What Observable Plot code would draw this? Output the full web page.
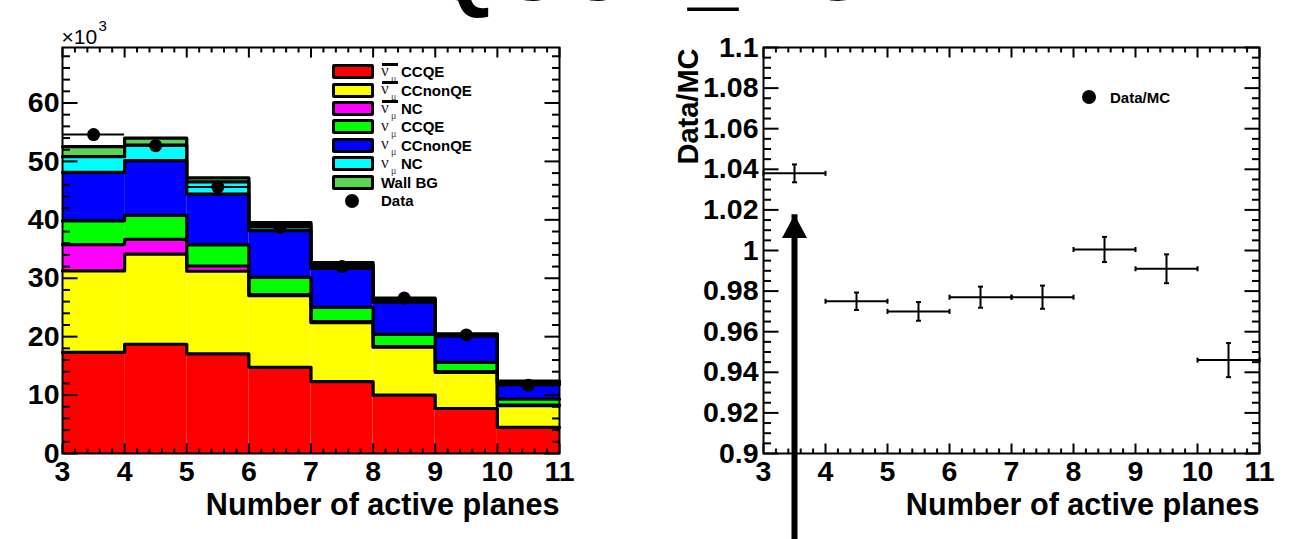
<!DOCTYPE html>
<html><head><meta charset="utf-8">
<script src="https://cdn.jsdelivr.net/npm/d3@7"></script>
<script src="https://cdn.jsdelivr.net/npm/@observablehq/plot@0.6"></script>
<style>
body{margin:0;background:#fff;}
#wrap{position:relative;width:1294px;height:539px;overflow:hidden;background:#fff;font-family:"Liberation Sans",Arial,Helvetica,sans-serif;}
#wrap svg{position:absolute;top:0;}
.lg{position:absolute;font-weight:bold;font-size:15px;line-height:1;white-space:nowrap;color:#000;}
.box{position:absolute;width:36px;height:9px;border:3px solid #000;border-radius:2px;}
.nu{position:absolute;font-family:"Liberation Serif","DejaVu Serif",serif;font-size:17px;color:#222;line-height:1;}
.mu{position:absolute;font-family:"Liberation Serif","DejaVu Serif",serif;font-size:10px;color:#444;line-height:1;}
.bar{position:absolute;height:3px;background:#000;}
.dotlg{position:absolute;border-radius:50%;background:#000;}
</style></head>
<body><div id="wrap"></div>
<script>
// ---------------- data ----------------
const binLow = [3, 4, 5, 6, 7, 8, 9, 10];
const binWidth = 1;
// stacked MC components (x10^3 events), bottom to top
const antiNumuCCQE    = [17.3, 18.7, 17.05, 14.75, 12.3, 10.0, 7.7, 4.46];
const antiNumuCCnonQE = [13.95, 15.43, 14.15, 12.25, 10.1, 8.2, 6.2, 3.74];
const antiNumuNC      = [4.52, 2.52, 0.9, 0.2, 0.2, 0.1, 0.1, 0.1];
const numuCCQE        = [4.06, 4.12, 3.6, 2.94, 2.4, 2.1, 1.6, 1.0];
const numuCCnonQE     = [8.29, 9.38, 8.7, 8.0, 6.7, 5.5, 4.5, 2.5];
const numuNC          = [2.69, 2.65, 2.1, 0.9, 0.5, 0.4, 0.2, 0.3];
const wallBG          = [1.71, 1.2, 0.67, 0.5, 0.5, 0.3, 0.2, 0.3];
const dataCounts      = [54.6, 52.7, 45.6, 38.7, 32.0, 26.6, 20.3, 11.7];

const seriesBar    = [true, true, true, false, false, false, null];
const seriesNames  = ["CCQE", "CCnonQE", "NC", "CCQE", "CCnonQE", "NC", "Wall BG"];
const seriesColors = ["#ff0000", "#ffff00", "#ff00ff", "#00ff00", "#0000ff", "#00ffff", "#59d454"];
const dataLabel = "Data";

// Data/MC ratio
const ratio    = [1.038, 0.975, 0.970, 0.977, 0.977, 1.0005, 0.991, 0.946];
const ratioErr = [0.0044, 0.0043, 0.0046, 0.0052, 0.0057, 0.0062, 0.0071, 0.0084];
const ratioLabel = "Data/MC";
const arrowX = 3.5, arrowBottom = 0.8596, arrowTip = 1.0176;

// axes
const xTicks = [3, 4, 5, 6, 7, 8, 9, 10, 11];
const yTicksLeft = [0, 10, 20, 30, 40, 50, 60];
const yTicksRight = [0.9, 0.92, 0.94, 0.96, 0.98, 1, 1.02, 1.04, 1.06, 1.08, 1.1];
const xTitle = "Number of active planes";
const yTitleRight = "Data/MC";
const leftExponentBase = "×10", leftExponentPow = "3";
const pageTitle = "QCCP_BG";

// ---------------- helpers ----------------
const FONT = "Liberation Sans, Arial, Helvetica, sans-serif";
const NARROW = "Liberation Sans Narrow, Liberation Sans, sans-serif";
const TICKFS = 28.5, TITLEFS = 30.6;
const wrap = document.getElementById("wrap");
const tickSym = (dx, dy) => ({draw(ctx, size) { const r = Math.sqrt(size / Math.PI); ctx.moveTo(0, 0); ctx.lineTo(dx * r, dy * r); }});
const hCap = {draw(ctx, size) { const r = Math.sqrt(size / Math.PI); ctx.moveTo(-r, 0); ctx.lineTo(r, 0); }};
const vCap = {draw(ctx, size) { const r = Math.sqrt(size / Math.PI); ctx.moveTo(0, -r); ctx.lineTo(0, r); }};
const headSym = {draw(ctx, size) { const r = Math.sqrt(size / Math.PI); ctx.moveTo(0, 0); ctx.lineTo(-r, 1.85 * r); ctx.lineTo(r, 1.85 * r); ctx.closePath(); }};

function frameTicks(xMajor, xMinor, yMajor, yMinor) {
  const o = {stroke: "black", strokeWidth: 2, fill: "none"};
  return [
    Plot.dot(xMajor, {...o, x: d => d, frameAnchor: "bottom", symbol: tickSym(0, -1), r: 10}),
    Plot.dot(xMinor, {...o, x: d => d, frameAnchor: "bottom", symbol: tickSym(0, -1), r: 5}),
    Plot.dot(xMajor, {...o, x: d => d, frameAnchor: "top", symbol: tickSym(0, 1), r: 10}),
    Plot.dot(xMinor, {...o, x: d => d, frameAnchor: "top", symbol: tickSym(0, 1), r: 5}),
    Plot.dot(yMajor, {...o, y: d => d, frameAnchor: "left", symbol: tickSym(1, 0), r: 15}),
    Plot.dot(yMinor, {...o, y: d => d, frameAnchor: "left", symbol: tickSym(1, 0), r: 7.5}),
    Plot.dot(yMajor, {...o, y: d => d, frameAnchor: "right", symbol: tickSym(-1, 0), r: 15}),
    Plot.dot(yMinor, {...o, y: d => d, frameAnchor: "right", symbol: tickSym(-1, 0), r: 7.5})
  ];
}
const xMinor = d3.range(3, 11.001, 0.2).map(v => +v.toFixed(2)).filter(v => !xTicks.includes(v));

// ---------------- left: stacked histogram ----------------
const stackSeries = [antiNumuCCQE, antiNumuCCnonQE, antiNumuNC, numuCCQE, numuCCnonQE, numuNC, wallBG];
const rects = [], bounds = [];
const cum = binLow.map(() => 0);
stackSeries.forEach((vals, s) => {
  binLow.forEach((x, i) => {
    const y1 = cum[i], y2 = cum[i] + vals[i];
    rects.push({x1: x, x2: x + binWidth, y1, y2, color: seriesColors[s]});
    cum[i] = y2;
    bounds.push({x, y: y2, s});
  });
  bounds.push({x: binLow[binLow.length - 1] + binWidth, y: cum[cum.length - 1], s});
});
const dataPts = binLow.map((x, i) => ({x1: x, x2: x + binWidth, xc: x + binWidth / 2, y: dataCounts[i]}));
const yMaxLeft = 69.5;
const yMinorLeft = d3.range(0, yMaxLeft, 2).filter(v => !yTicksLeft.includes(v));

const left = Plot.plot({
  width: 640, height: 539,
  marginLeft: 62, marginRight: 81, marginTop: 47, marginBottom: 86,
  x: {domain: [3, 11]},
  y: {domain: [0, yMaxLeft]},
  color: {type: "identity"},
  style: {fontFamily: FONT, background: "transparent", overflow: "visible"},
  marks: [
    Plot.rect(rects, {x1: "x1", x2: "x2", y1: "y1", y2: "y2", fill: "color"}),
    Plot.line(bounds, {x: "x", y: "y", z: "s", curve: "step-after", stroke: "black", strokeWidth: 3.2}),
    Plot.ruleY(dataPts, {y: "y", x1: "x1", x2: "x2", stroke: "black", strokeWidth: 2}),
    Plot.dot(dataPts, {x: "xc", y: "y", r: 6.5, fill: "black"}),
    Plot.frame({stroke: "black", strokeWidth: 2}),
    ...frameTicks(xTicks, xMinor, yTicksLeft, yMinorLeft),
    Plot.axisX({ticks: xTicks, tickSize: 0, tickPadding: 7, fontSize: TICKFS, fontWeight: "bold", tickFormat: d => String(d)}),
    Plot.axisY({ticks: yTicksLeft, tickSize: 0, tickPadding: 3, fontSize: TICKFS, fontWeight: "bold", tickFormat: d => String(d)}),
    Plot.text([xTitle], {text: d => d, frameAnchor: "bottom-right", textAnchor: "end", lineAnchor: "bottom", dy: 61, fontSize: TITLEFS, fontWeight: "bold"}),
    Plot.text([leftExponentBase], {text: d => d, frameAnchor: "top-left", textAnchor: "start", lineAnchor: "bottom", dy: -4, dx: -1, fontSize: 21, fontFamily: NARROW}),
    Plot.text([leftExponentPow], {text: d => d, frameAnchor: "top-left", textAnchor: "start", lineAnchor: "bottom", dy: -17, dx: 36, fontSize: 15, fontFamily: NARROW})
  ]
});
left.style.left = "0px";
wrap.appendChild(left);

// ---------------- right: ratio ----------------
const ratioPts = binLow.map((x, i) => ({x1: x, x2: x + binWidth, xc: x + binWidth / 2, y: ratio[i], lo: ratio[i] - ratioErr[i], hi: ratio[i] + ratioErr[i]}));
const yMinorRight = d3.range(0, 41).map(k => +(0.9 + k * 0.005).toFixed(3)).filter(v => !yTicksRight.some(t => Math.abs(t - v) < 1e-9));

const right = Plot.plot({
  width: 644, height: 539,
  marginLeft: 113, marginRight: 35, marginTop: 47, marginBottom: 86,
  x: {domain: [3, 11]},
  y: {domain: [0.9, 1.1]},
  style: {fontFamily: FONT, background: "transparent", overflow: "visible"},
  marks: [
    Plot.ruleY(ratioPts, {y: "y", x1: "x1", x2: "x2", stroke: "black", strokeWidth: 2}),
    Plot.ruleX(ratioPts, {x: "xc", y1: "lo", y2: "hi", stroke: "black", strokeWidth: 2}),
    Plot.dot(ratioPts, {x: "x1", y: "y", symbol: vCap, r: 2.5, stroke: "black", strokeWidth: 2, fill: "none"}),
    Plot.dot(ratioPts, {x: "x2", y: "y", symbol: vCap, r: 2.5, stroke: "black", strokeWidth: 2, fill: "none"}),
    Plot.dot(ratioPts, {x: "xc", y: "lo", symbol: hCap, r: 2.5, stroke: "black", strokeWidth: 2, fill: "none"}),
    Plot.dot(ratioPts, {x: "xc", y: "hi", symbol: hCap, r: 2.5, stroke: "black", strokeWidth: 2, fill: "none"}),
    Plot.frame({stroke: "black", strokeWidth: 2}),
    ...frameTicks(xTicks, xMinor, yTicksRight, yMinorRight),
    Plot.axisX({ticks: xTicks, tickSize: 0, tickPadding: 7, fontSize: TICKFS, fontWeight: "bold", tickFormat: d => String(d)}),
    Plot.axisY({ticks: yTicksRight, tickSize: 0, tickPadding: 5, fontSize: TICKFS, fontWeight: "bold", tickFormat: d => String(d)}),
    Plot.ruleX([arrowX], {x: d => d, y1: arrowBottom, y2: arrowTip, insetTop: 14, stroke: "black", strokeWidth: 6}),
    Plot.dot([arrowX], {x: d => d, y: arrowTip, symbol: headSym, r: 12.5, fill: "black", stroke: "none"}),
    Plot.text([xTitle], {text: d => d, frameAnchor: "bottom-right", textAnchor: "end", lineAnchor: "bottom", dy: 61, fontSize: TITLEFS, fontWeight: "bold"}),
    Plot.text([yTitleRight], {text: d => d, frameAnchor: "top-left", textAnchor: "end", lineAnchor: "bottom", rotate: -90, dx: -66, dy: 1, fontSize: 29, fontWeight: "bold"})
  ]
});
right.style.left = "650px";
wrap.appendChild(right);

// ---------------- legends (HTML) ----------------
function el(cls, css, html) { const d = document.createElement("div"); d.className = cls; Object.assign(d.style, css); if (html != null) d.innerHTML = html; wrap.appendChild(d); return d; }
const lgX = 332, lgY0 = 71.7, lgStep = 18.4;
seriesNames.forEach((name, i) => {
  const cy = lgY0 + i * lgStep;
  el("box", {left: lgX + "px", top: (cy - 7.5) + "px", background: seriesColors[i]});
  let tx = 381;
  if (seriesBar[i] !== null) {
    el("nu", {left: "381px", top: (cy - 10) + "px"}, "ν");
    el("mu", {left: "391px", top: (cy + 2) + "px"}, "μ");
    if (seriesBar[i]) el("bar", {left: "382px", top: (cy - 9) + "px", width: "16px"});
    tx = 401;
  }
  el("lg", {left: tx + "px", top: (cy - 7.5) + "px"}, name);
});
{
  const cy = lgY0 + seriesNames.length * lgStep;
  el("dotlg", {left: "345px", top: (cy - 7) + "px", width: "14px", height: "14px"});
  el("lg", {left: "381px", top: (cy - 7.5) + "px"}, dataLabel);
}
el("dotlg", {left: "1082px", top: "90px", width: "14px", height: "14px"});
el("lg", {left: "1110px", top: "89.5px"}, ratioLabel);

// ---------------- cut-off page title ----------------
el("lg", {left: "428px", top: "-76px", fontSize: "90px", letterSpacing: "0px"}, pageTitle);
</script>
</body></html>
